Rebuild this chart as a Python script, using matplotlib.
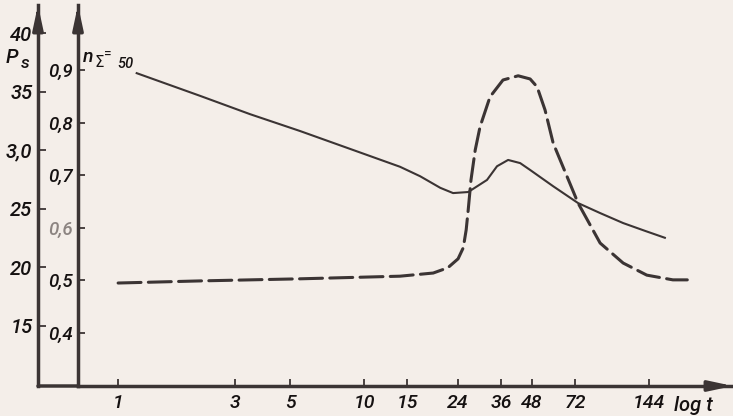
import matplotlib.pyplot as plt
from matplotlib import transforms

# values (t in hours, log x axis; y on the n_sigma scale)
t_solid = [1.19, 2.15, 3.44, 5.49, 8.77, 14.0, 16.9, 20.4, 23.0, 26.5, 31.6,
           34.7, 38.5, 43.1, 47.3, 58.7, 74.1, 91.1, 113, 139, 167]
n_solid = [0.894, 0.851, 0.816, 0.784, 0.750, 0.716, 0.698, 0.676, 0.666, 0.668, 0.691,
           0.717, 0.729, 0.723, 0.710, 0.679, 0.647, 0.628, 0.609, 0.594, 0.581]

t_dash = [1.0, 2.15, 5.49, 14.0, 19.1, 21.9, 24.1, 25.3, 26.0, 26.5, 27.2, 28.3, 29.6,
          32.5, 36.7, 42.3, 47.3, 50.5, 54.4, 58.7, 66.9, 74.1, 91.1, 113, 141, 180, 206]
n_dash = [0.495, 0.499, 0.503, 0.508, 0.514, 0.524, 0.541, 0.562, 0.596, 0.634, 0.691,
          0.748, 0.792, 0.849, 0.881, 0.889, 0.883, 0.868, 0.824, 0.761, 0.697, 0.647,
          0.571, 0.533, 0.510, 0.501, 0.501]

x_ticks = [1, 3, 5, 10, 15, 24, 36, 48, 72, 144]
n_ticks = [0.4, 0.5, 0.6, 0.7, 0.8, 0.9]
n_labels = ['0,4', '0,5', '0,6', '0,7', '0,8', '0,9']
ps_ticks = [15, 20, 25, 30, 35, 40]
ps_labels = ['15', '20', '25', '3,0', '35', '40']

bg = '#f4eee9'
ink = '#3b3434'
txt = '#151111'
font = ['Roboto', 'Liberation Sans', 'DejaVu Sans']
lab_kw = dict(family=font, style='italic', weight='medium', color=txt)

W, H = 733, 416
fig = plt.figure(figsize=(W / 100, H / 100), dpi=100, facecolor=bg)
ax = fig.add_axes([78 / W, 1 - 386 / H, (733 - 78) / W, (386 - 5) / H])
ax.set_facecolor(bg)
ax.set_xscale('log')
ax.set_xlim(0.687, 316)
ax.set_ylim(0.2992, 1.0236)

ax.plot(t_solid, n_solid, color=ink, lw=1.5, solid_joinstyle='round')
ax.plot(t_dash, n_dash, color=ink, lw=2.2, dashes=(7.5, 2.4), dash_capstyle='round')

for s in ['top', 'right']:
    ax.spines[s].set_visible(False)
ax.spines['left'].set_linewidth(2.5)
ax.spines['bottom'].set_linewidth(2.5)
ax.spines['left'].set_color(ink)
ax.spines['bottom'].set_color(ink)

ax.set_xticks(x_ticks)
ax.set_xticklabels([str(v) for v in x_ticks])
ax.minorticks_off()
ax.set_yticks(n_ticks)
ax.set_yticklabels(n_labels)
ax.tick_params(axis='both', direction='in', length=5, width=1.3, color=ink)
ax.tick_params(axis='x', pad=6, labelsize=14)
ax.tick_params(axis='y', pad=4, labelsize=13.5)
for lab in ax.get_xticklabels() + ax.get_yticklabels():
    lab.set_family(font)
    lab.set_style('italic')
    lab.set_weight('medium')
    lab.set_color(txt)
ax.get_yticklabels()[2].set_color('#8c8481')

# outer P_s axis
ax2 = ax.twinx()
ax2.set_ylim(9.88, 42.39)
ax2.spines['left'].set_position(('outward', 28.8))
ax2.yaxis.set_ticks_position('left')
ax2.yaxis.set_label_position('left')
for s in ['top', 'right', 'bottom']:
    ax2.spines[s].set_visible(False)
ax2.spines['left'].set_linewidth(2.5)
ax2.spines['left'].set_color(ink)
ax2.set_yticks(ps_ticks)
ax2.set_yticklabels(ps_labels)
ax2.yaxis.set_tick_params(which='major', left=True, right=False, direction='in',
                          length=6, width=1.3, color=ink, labelsize=14.5, pad=4)
for lab in ax2.get_yticklabels():
    lab.set_family(font)
    lab.set_style('italic')
    lab.set_weight('medium')
    lab.set_color(txt)

# arrow heads and the bottom line stub
arrow = dict(arrowstyle='-|>,head_length=1.4,head_width=0.3', color=ink, lw=2.5,
             shrinkA=0, shrinkB=0)
ax.annotate('', xy=(0, 1.0), xytext=(0, 0.96), xycoords='axes fraction', arrowprops=arrow)
outer = transforms.offset_copy(ax.transAxes, fig=fig, x=-40, y=0, units='dots')
ax.annotate('', xy=(0, 1.0), xytext=(0, 0.96), xycoords=outer, textcoords=outer,
            arrowprops=arrow)
ax.annotate('', xy=(1.0, 0), xytext=(0.96, 0), xycoords='axes fraction', arrowprops=arrow)
ax.annotate('', xy=(0, 0), xytext=(0, 0), xycoords='axes fraction', textcoords=outer,
            arrowprops=dict(arrowstyle='-', color=ink, lw=2.5, shrinkA=0, shrinkB=0))

# axis titles
tb = transforms.blended_transform_factory(ax.transData, ax.transAxes)
ax.text(219, -0.025, 'log t', transform=tb, ha='center', va='top', fontsize=14.5, **lab_kw)
fig.text(6 / W, 1 - 63 / H, 'P', fontsize=14.5, **lab_kw)
fig.text(21 / W, 1 - 68 / H, 's', fontsize=12.5, **lab_kw)
fig.text(83 / W, 1 - 62 / H, 'n', fontsize=14, **lab_kw)
fig.text(94 / W, 1 - 67 / H, r'$\Sigma$', fontsize=11, color=txt)
fig.text(104 / W, 1 - 59 / H, '=', fontsize=10, family=font, color=txt)
fig.text(117 / W, 1 - 68 / H, '50', fontsize=10.5, **lab_kw)

fig.savefig('out.png', dpi=100, facecolor=bg)
